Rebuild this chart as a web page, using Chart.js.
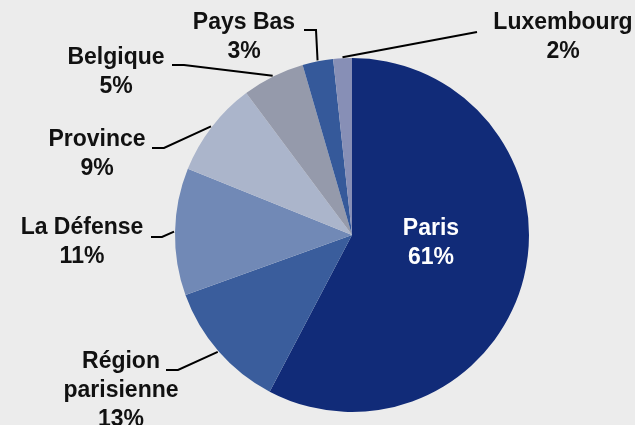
<!DOCTYPE html>
<html>
<head>
<meta charset="utf-8">
<script src="https://cdn.jsdelivr.net/npm/chart.js@4.4.0/dist/chart.umd.min.js"></script>
<style>
  html, body { margin: 0; padding: 0; background: #ececec; }
  canvas { display: block; }
</style>
</head>
<body>
<canvas id="pie" width="635" height="425"></canvas>
<script>
// slice shares (angles), and the printed labels
const categories = ['Paris', 'Région parisienne', 'La Défense', 'Province', 'Belgique', 'Pays Bas', 'Luxembourg'];
const shares = [57.7, 11.8, 11.6, 8.7, 5.7, 2.8, 1.7];
const pctLabels = ['61%', '13%', '11%', '9%', '5%', '3%', '2%'];
const colors = ['#112b78', '#3a5d9c', '#7189b6', '#abb5cb', '#959aab', '#35599a', '#878fb6'];

// label placement: text lines, centre x, first line y, leader (start x, elbow x, y)
const labelLayout = [
  { lines: ['Paris'], x: 431, y: 229, color: '#fff', inside: true },
  { lines: ['Région', 'parisienne'], x: 121, y: 362, lead: [166, 178, 370] },
  { lines: ['La Défense'], x: 82, y: 228, lead: [151, 162, 237] },
  { lines: ['Province'], x: 97, y: 140, lead: [152, 164, 148] },
  { lines: ['Belgique'], x: 116, y: 58, lead: [172, 184, 65] },
  { lines: ['Pays Bas'], x: 244, y: 23, lead: [304, 316, 30] },
  { lines: ['Luxembourg'], x: 563, y: 23, lead: [477, 477, 32] }
];

const lineGap = 29;

const labelPlugin = {
  id: 'sliceLabels',
  afterDraw(chart) {
    const ctx = chart.ctx;
    const arcs = chart.getDatasetMeta(0).data;
    ctx.save();
    ctx.font = 'bold 23px "Liberation Sans", Arial, sans-serif';
    ctx.textAlign = 'center';
    ctx.textBaseline = 'middle';
    labelLayout.forEach(function(l, i) {
      const arc = arcs[i].getProps(['x', 'y', 'startAngle', 'endAngle', 'outerRadius'], true);
      if (l.lead) {
        const mid = (arc.startAngle + arc.endAngle) / 2;
        const ex = arc.x + Math.cos(mid) * (arc.outerRadius + 1);
        const ey = arc.y + Math.sin(mid) * (arc.outerRadius + 1);
        ctx.strokeStyle = '#000';
        ctx.lineWidth = 2;
        ctx.beginPath();
        ctx.moveTo(l.lead[0], l.lead[2]);
        ctx.lineTo(l.lead[1], l.lead[2]);
        ctx.lineTo(ex, ey);
        ctx.stroke();
      }
      ctx.fillStyle = l.color || '#111';
      const lines = l.lines.concat([pctLabels[i]]);
      lines.forEach(function(t, k) {
        ctx.fillText(t, l.x, l.y + k * lineGap);
      });
    });
    ctx.restore();
  }
};

new Chart(document.getElementById('pie'), {
  type: 'pie',
  data: {
    labels: categories,
    datasets: [{
      data: shares,
      backgroundColor: colors,
      borderWidth: 0
    }]
  },
  options: {
    responsive: false,
    animation: false,
    layout: { padding: { top: 58, bottom: 13, left: 175, right: 106 } },
    plugins: {
      legend: { display: false },
      tooltip: { enabled: false }
    }
  },
  plugins: [labelPlugin]
});
</script>
</body>
</html>
